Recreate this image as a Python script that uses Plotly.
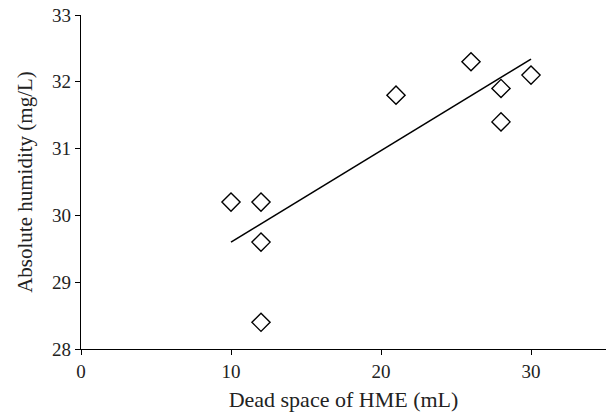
import plotly.graph_objects as go

# Data
dead_space = [10, 12, 12, 12, 21, 26, 28, 28, 30]
humidity = [30.2, 30.2, 29.6, 28.4, 31.8, 32.3, 31.9, 31.4, 32.1]
trend_x = [10, 30]
trend_y = [29.6, 32.34]
x_ticks = [0, 10, 20, 30]
y_ticks = [28, 29, 30, 31, 32, 33]

FONT = "Liberation Serif"

fig = go.Figure()
fig.add_trace(go.Scatter(
    x=trend_x, y=trend_y, mode="lines",
    line=dict(color="black", width=1.6), showlegend=False, hoverinfo="skip"))
fig.add_trace(go.Scatter(
    x=dead_space, y=humidity, mode="markers",
    marker=dict(symbol="diamond-open", size=14, color="black",
                line=dict(color="black", width=1.4)),
    showlegend=False))

fig.update_layout(
    width=606, height=417,
    margin=dict(l=81, r=0, t=15, b=68, pad=0),
    paper_bgcolor="white", plot_bgcolor="white",
    font=dict(family=FONT, size=19, color="#222"),
    xaxis=dict(range=[0, 35], tickvals=x_ticks, showgrid=False, zeroline=False,
               showline=True, linecolor="black", linewidth=1.2,
               ticks="outside", ticklen=5, tickcolor="black", tickwidth=1.2,
               tickfont=dict(size=19),
               title=dict(text="Dead space of HME (mL)", standoff=10,
                          font=dict(size=22)),
               automargin=False, fixedrange=True),
    yaxis=dict(range=[28, 33], tickvals=y_ticks, showgrid=False, zeroline=False,
               showline=True, linecolor="black", linewidth=1.2,
               ticks="outside", ticklen=5, tickcolor="black", tickwidth=1.2,
               tickfont=dict(size=19),
               title=dict(text="Absolute humidity (mg/L)", standoff=13,
                          font=dict(size=21)),
               automargin=False, fixedrange=True),
)

# remove the browser's default page margin so the figure fills the window
fig.write_html("out.html", config={"displayModeBar": False},
               post_script="document.body.style.margin='0';")
